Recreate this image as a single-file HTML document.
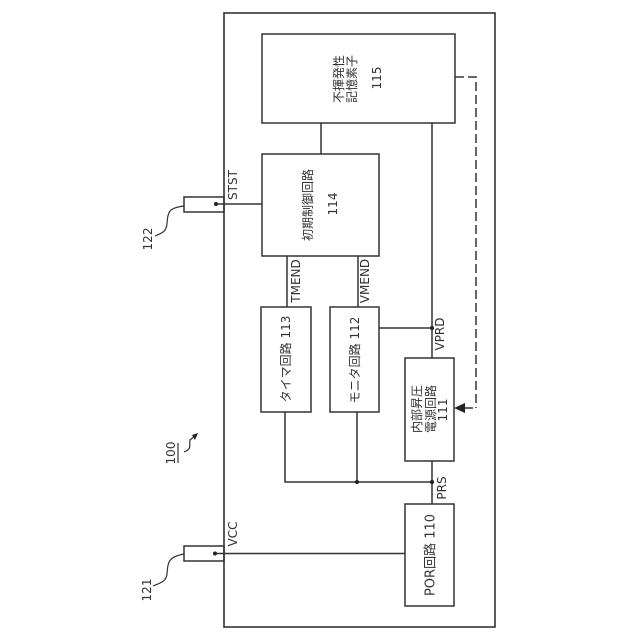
<!DOCTYPE html>
<html><head><meta charset="utf-8"><style>
html,body{margin:0;padding:0;background:#fff}
svg{display:block}
text{font-family:"DejaVu Sans","Noto Sans CJK JP",sans-serif;font-size:12px;fill:#333;text-anchor:middle;dominant-baseline:central}
</style></head><body>
<svg width="640" height="640" viewBox="0 0 640 640" xmlns="http://www.w3.org/2000/svg">
<g fill="none" stroke="#333" stroke-width="1.5">
<rect x="224" y="13" width="271" height="614" stroke-width="1.6"/>
<rect x="262" y="34" width="193" height="89"/>
<rect x="262" y="154" width="117" height="102"/>
<rect x="261" y="307" width="50" height="105"/>
<rect x="330" y="307" width="49" height="105"/>
<rect x="405" y="358" width="49" height="103"/>
<rect x="405" y="504" width="49" height="102"/>
<rect x="184" y="197" width="40" height="15"/>
<rect x="184" y="546" width="40" height="15"/>
<path d="M321 123V154M432 123V358M287 256V307M358 256V307M379 328H432M285 412V482H432M357 412V482M432 461V504M216 204H262M215 553.5H405"/>
<path d="M455 77H476V408" stroke-dasharray="9 4"/>
<path d="M464 408H473"/>
<path d="M184 206C168 208 168 212 167 224C166 232 162 233 155 236" stroke-width="1.2"/>
<path d="M184 554C168 557 168 562 167 574C166 582 160 583 153 586" stroke-width="1.2"/>
<path d="M178 443V463" stroke-width="1.2"/>
<path d="M184 452C192 449 189 446 190 440L195 436" stroke-width="1.2"/>
</g>
<g fill="#222">
<circle cx="432" cy="328" r="2"/><circle cx="357" cy="482" r="2"/><circle cx="432" cy="482" r="2"/>
<circle cx="216" cy="204" r="2"/><circle cx="215" cy="553.5" r="2"/>
<path d="M454 408L465 403V413Z"/>
<path d="M198 433L192 435L195 440Z"/>
</g>
<text transform="translate(233,185) rotate(-90)">STST</text>
<text transform="translate(233,534) rotate(-90)">VCC</text>
<text transform="translate(296,281) rotate(-90)">TMEND</text>
<text transform="translate(365,281) rotate(-90)">VMEND</text>
<text transform="translate(440,334) rotate(-90)">VPRD</text>
<text transform="translate(442,488) rotate(-90)">PRS</text>
<text transform="translate(148,239) rotate(-90)">122</text>
<text transform="translate(147,590) rotate(-90)">121</text>
<text transform="translate(171,453) rotate(-90)">100</text>
<text transform="translate(339,79) rotate(-90)">不揮発性</text>
<text transform="translate(352,79) rotate(-90)">記憶素子</text>
<text transform="translate(377,78) rotate(-90)">115</text>
<text transform="translate(308,205) rotate(-90)">初期制御回路</text>
<text transform="translate(333,204) rotate(-90)">114</text>
<text transform="translate(286,359) rotate(-90)">タイマ回路 113</text>
<text transform="translate(355,360) rotate(-90)">モニタ回路 112</text>
<text transform="translate(417,409) rotate(-90)">内部昇圧</text>
<text transform="translate(431,409) rotate(-90)">電源回路</text>
<text transform="translate(443,410) rotate(-90)">111</text>
<text transform="translate(431,555) rotate(-90)" style="font-size:13px">POR回路 110</text>
</svg>
</body></html>
